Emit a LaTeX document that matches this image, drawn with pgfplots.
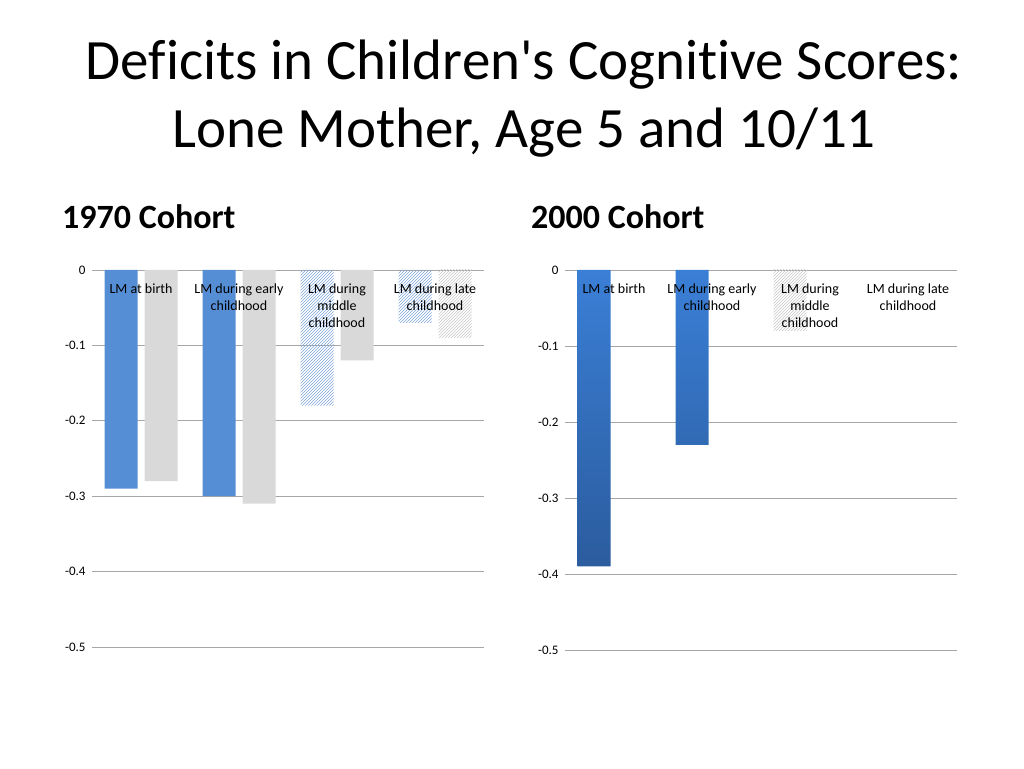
\documentclass[border=0pt]{standalone}
\usepackage{pgfplots}
\pgfplotsset{compat=1.18}
\usepackage{fontspec}
\setmainfont{Carlito}[Ligatures=NoCommon]
\usetikzlibrary{patterns}
\definecolor{lblue}{HTML}{558ED5}
\definecolor{lgray}{HTML}{D9D9D9}
\definecolor{hblue}{HTML}{7FA6DA}
\definecolor{hgray}{HTML}{C8C8C8}
\definecolor{dblueT}{HTML}{3A7FD6}
\definecolor{dblueB}{HTML}{2B5C9E}
\definecolor{gridc}{HTML}{A6A6A6}
\tikzset{catlab/.style={anchor=north, yshift=-10pt, align=center, font=\fontsize{14}{17}\selectfont}}
\begin{document}
\begin{tikzpicture}[x=1pt,y=1pt]
\path (0pt,0pt) rectangle (1024pt,768pt);
\node[anchor=base,font=\fontsize{57}{68}\selectfont,align=center] at (524pt,688pt) {Deficits in Children\textquotesingle s Cognitive Scores:};
\node[anchor=base,font=\fontsize{57}{68}\selectfont,align=center] at (524pt,620pt) {Lone Mother, Age 5 and 10/11};
\node[anchor=base west,inner sep=0pt,font=\fontsize{34}{38}\selectfont\bfseries] at (62pt,539pt) {1970 Cohort};
\node[anchor=base west,inner sep=0pt,font=\fontsize{34}{38}\selectfont\bfseries] at (531pt,539pt) {2000 Cohort};
\pgfplotsset{
  cohort/.style={
    scale only axis, width=392pt, anchor=south west,
    ymin=-0.5, ymax=0, xmin=-0.5, xmax=3.5,
    ybar, bar width=33pt,
    axis line style={draw=none},
    ymajorgrids, grid style={gridc, line width=0.8pt},
    major tick style={draw=none},
    ytick={-0.5,-0.4,-0.3,-0.2,-0.1,0},
    yticklabels={-0.5,-0.4,-0.3,-0.2,-0.1,0},
    yticklabel style={font=\fontsize{13}{15}\selectfont, xshift=-3pt},
    xtick=\empty,
    clip=false,
  },
}
\begin{axis}[cohort, at={(92pt,121pt)}, height=377pt]
\addplot[fill=lblue, draw=none, bar shift=-20pt] coordinates {(0,-0.29) (1,-0.30)};
\addplot[fill=lgray, draw=none, bar shift=20pt] coordinates {(0,-0.28) (1,-0.31) (2,-0.12)};
\addplot[pattern=north east lines, pattern color=hblue, draw=none, bar shift=-20pt] coordinates {(2,-0.18) (3,-0.07)};
\addplot[pattern=north east lines, pattern color=hgray, draw=none, bar shift=20pt] coordinates {(3,-0.09)};
\node[catlab] at (axis cs:0,0) {LM at birth};
\node[catlab] at (axis cs:1,0) {LM during early\\childhood};
\node[catlab] at (axis cs:2,0) {LM during\\middle\\childhood};
\node[catlab] at (axis cs:3,0) {LM during late\\childhood};
\end{axis}
\begin{axis}[cohort, at={(565pt,118pt)}, height=380pt]
\addplot[top color=dblueT, bottom color=dblueB, draw=none, bar shift=-20pt] coordinates {(0,-0.39) (1,-0.23)};
\addplot[pattern=north east lines, pattern color=hgray, draw=none, bar shift=-20pt] coordinates {(2,-0.08)};
\node[catlab] at (axis cs:0,0) {LM at birth};
\node[catlab] at (axis cs:1,0) {LM during early\\childhood};
\node[catlab] at (axis cs:2,0) {LM during\\middle\\childhood};
\node[catlab] at (axis cs:3,0) {LM during late\\childhood};
\end{axis}
\end{tikzpicture}
\end{document}
